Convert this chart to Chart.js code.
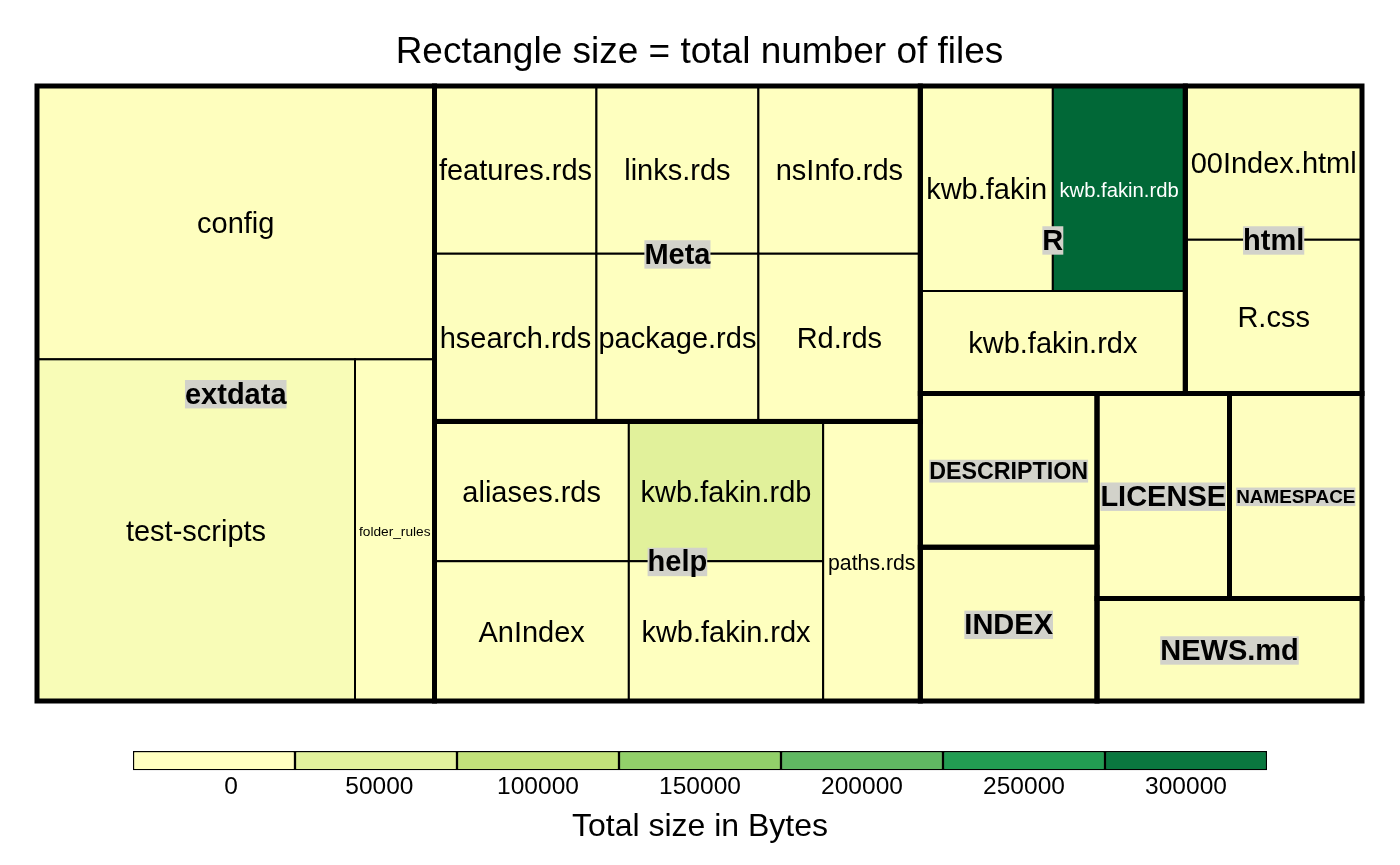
<!DOCTYPE html>
<html>
<head>
<meta charset="utf-8">
<script src="https://cdn.jsdelivr.net/npm/chart.js@4.4.1/dist/chart.umd.min.js"></script>
<style>
  body { margin: 0; background: #fff; }
  canvas { display: block; }
</style>
</head>
<body>
<canvas id="tree" width="1400" height="720"></canvas>
<canvas id="legend" width="1400" height="145"></canvas>
<script>
// level 1 = folders (or single top-level files)
var folderNames = ['extdata', 'Meta', 'help', 'R', 'html', 'DESCRIPTION', 'INDEX', 'LICENSE', 'NAMESPACE', 'NEWS.md'];

// level 2 = entries inside each folder
var fileNames = ['config', 'test-scripts', 'folder_rules',
  'features.rds', 'hsearch.rds', 'links.rds', 'nsInfo.rds', 'package.rds', 'Rd.rds',
  'aliases.rds', 'AnIndex', 'kwb.fakin.rdb', 'kwb.fakin.rdx', 'paths.rds',
  'kwb.fakin', 'kwb.fakin.rdb', 'kwb.fakin.rdx',
  '00Index.html', 'R.css',
  'DESCRIPTION', 'INDEX', 'LICENSE', 'NAMESPACE', 'NEWS.md'];
var fileFolders = ['extdata', 'extdata', 'extdata',
  'Meta', 'Meta', 'Meta', 'Meta', 'Meta', 'Meta',
  'help', 'help', 'help', 'help', 'help',
  'R', 'R', 'R',
  'html', 'html',
  'DESCRIPTION', 'INDEX', 'LICENSE', 'NAMESPACE', 'NEWS.md'];
var fileCounts = [4, 4, 1,
  1, 1, 1, 1, 1, 1,
  1, 1, 1, 1, 1,
  1, 1, 1,
  1, 1,
  1, 1, 1, 1, 1];
var fileBytes = [2500, 12000, 1500,
  900, 2600, 1100, 450, 1300, 700,
  1200, 900, 52000, 1000, 300,
  1100, 322000, 2200,
  3000, 1200,
  1500, 2500, 60, 2000, 3500];

// legend labels are padded to a common width, as R's format() does
var legendTicks = ['     0', ' 50000', '100000', '150000', '200000', '250000', '300000'];
var legendValues = [0, 50000, 100000, 150000, 200000, 250000, 300000];
var legendColors = ['#FFFFC0', '#E2F29C', '#C2E27A', '#92D06A', '#60B862', '#229C52', '#0A773F'];
var darkEnd = '#006636';

var FONT = '"Liberation Sans", Arial, sans-serif';

function hexRgb(h) {
  return [parseInt(h.substr(1, 2), 16), parseInt(h.substr(3, 2), 16), parseInt(h.substr(5, 2), 16)];
}
function mix(a, b, t) {
  var p = hexRgb(a), q = hexRgb(b);
  var r = [0, 1, 2].map(function(i) { return Math.round(p[i] + (q[i] - p[i]) * t); });
  return 'rgb(' + r.join(',') + ')';
}
function colorFor(v) {
  var n = legendValues.length;
  if (v <= legendValues[0]) return mix(legendColors[0], legendColors[0], 0);
  if (v >= legendValues[n - 1]) {
    return mix(legendColors[n - 1], darkEnd, Math.min(1, (v - legendValues[n - 1]) / 25000));
  }
  for (var i = 0; i < n - 1; i++) {
    if (v < legendValues[i + 1]) {
      return mix(legendColors[i], legendColors[i + 1], (v - legendValues[i]) / (legendValues[i + 1] - legendValues[i]));
    }
  }
}
function isDark(c) {
  var m = c.match(/\d+/g);
  return (0.299 * m[0] + 0.587 * m[1] + 0.114 * m[2]) < 110;
}

// squarified layout
function worst(row, s, k) {
  var sum = 0, mx = 0, mn = Infinity;
  row.forEach(function(it) { var a = it.value * k; sum += a; mx = Math.max(mx, a); mn = Math.min(mn, a); });
  return Math.max(s * s * mx / (sum * sum), sum * sum / (s * s * mn));
}
function squarify(items, x, y, w, h) {
  var total = 0;
  items.forEach(function(it) { total += it.value; });
  var k = w * h / total;
  var rest = items.slice().sort(function(a, b) { return b.value - a.value; });
  var out = [];
  while (rest.length) {
    var s = Math.min(w, h);
    var row = [rest[0]], i = 1;
    while (i < rest.length && worst(row.concat([rest[i]]), s, k) <= worst(row, s, k)) {
      row.push(rest[i]);
      i++;
    }
    rest = rest.slice(row.length);
    var rsum = 0;
    row.forEach(function(it) { rsum += it.value * k; });
    if (w >= h) {
      var cw = rsum / h, yy = y;
      row.forEach(function(it) {
        var ih = it.value * k / cw;
        out.push({ item: it, x: x, y: yy, w: cw, h: ih });
        yy += ih;
      });
      x += cw; w -= cw;
    } else {
      var rh = rsum / w, xx = x;
      row.forEach(function(it) {
        var iw = it.value * k / rh;
        out.push({ item: it, x: xx, y: y, w: iw, h: rh });
        xx += iw;
      });
      y += rh; h -= rh;
    }
  }
  return out;
}

function fitFont(ctx, text, size, weight, w) {
  ctx.font = weight + ' ' + size + 'px ' + FONT;
  var tw = ctx.measureText(text).width;
  if (tw > w - 2) {
    size = size * 0.9 * w / tw;
    ctx.font = weight + ' ' + size + 'px ' + FONT;
    tw = ctx.measureText(text).width;
  }
  return { size: size, width: tw };
}

var treemapPlugin = {
  id: 'treemap',
  afterDatasetsDraw: function(chart) {
    var ctx = chart.ctx;
    var xs = chart.scales.x, ys = chart.scales.y;
    var W = chart.chartArea.right - chart.chartArea.left;
    var H = chart.chartArea.bottom - chart.chartArea.top;

    // build folders from file arrays
    var folders = folderNames.map(function(name) {
      var kids = [], count = 0, bytes = 0;
      fileNames.forEach(function(f, i) {
        if (fileFolders[i] !== name) return;
        kids.push({ name: f, value: fileCounts[i], bytes: fileBytes[i] });
        count += fileCounts[i];
        bytes += fileBytes[i];
      });
      return { name: name, value: count, bytes: bytes, kids: kids, leaf: kids.length === 1 && kids[0].name === name };
    });

    // layout in pixel-proportional units, drawn through the scales
    function px(r) {
      var x0 = xs.getPixelForValue(r.x / W), x1 = xs.getPixelForValue((r.x + r.w) / W);
      var y0 = ys.getPixelForValue(r.y / H), y1 = ys.getPixelForValue((r.y + r.h) / H);
      return { x: Math.min(x0, x1), y: Math.min(y0, y1), w: Math.abs(x1 - x0), h: Math.abs(y1 - y0) };
    }
    var top = squarify(folders, 0, 0, W, H);
    var childRects = [];
    top.forEach(function(t) {
      if (!t.item.leaf) {
        squarify(t.item.kids, t.x, t.y, t.w, t.h).forEach(function(c) { childRects.push(c); });
      }
    });

    ctx.save();
    // fills
    top.forEach(function(t) {
      var p = px(t);
      ctx.fillStyle = colorFor(t.item.bytes);
      ctx.fillRect(p.x, p.y, p.w, p.h);
    });
    childRects.forEach(function(c) {
      var p = px(c);
      ctx.fillStyle = colorFor(c.item.bytes);
      ctx.fillRect(p.x, p.y, p.w, p.h);
      ctx.lineWidth = 2;
      ctx.strokeStyle = '#000';
      ctx.strokeRect(p.x, p.y, p.w, p.h);
    });
    top.forEach(function(t) {
      var p = px(t);
      ctx.lineWidth = 5;
      ctx.strokeStyle = '#000';
      ctx.strokeRect(p.x, p.y, p.w, p.h);
    });

    // labels
    ctx.textAlign = 'center';
    ctx.textBaseline = 'middle';
    childRects.forEach(function(c) {
      var p = px(c);
      fitFont(ctx, c.item.name, 29, 'normal', p.w);
      ctx.fillStyle = isDark(colorFor(c.item.bytes)) ? '#fff' : '#000';
      ctx.fillText(c.item.name, p.x + p.w / 2, p.y + p.h / 2 + 2.5);
    });
    top.forEach(function(t) {
      var p = px(t);
      var f = fitFont(ctx, t.item.name, 29, 'bold', p.w);
      var cx = p.x + p.w / 2, cy = p.y + p.h / 2 + 1;
      ctx.fillStyle = '#D2D2CA';
      ctx.fillRect(cx - f.width / 2, cy - f.size * 0.5, f.width, f.size * 0.98);
      ctx.fillStyle = '#000';
      ctx.fillText(t.item.name, cx, cy + 1);
    });
    ctx.restore();
  }
};

new Chart(document.getElementById('tree'), {
  type: 'scatter',
  data: { datasets: [{ data: [] }] },
  options: {
    responsive: false,
    animation: false,
    layout: { padding: { left: 37, right: 38, top: 0, bottom: 19 } },
    scales: {
      x: { type: 'linear', min: 0, max: 1, display: false },
      y: { type: 'linear', min: 0, max: 1, reverse: true, display: false }
    },
    plugins: {
      legend: { display: false },
      tooltip: { enabled: false },
      title: {
        display: true,
        text: 'Rectangle size = total number of files',
        color: '#000',
        font: { family: FONT, size: 37, weight: 'normal' },
        padding: { top: 31, bottom: 10.6 }
      }
    }
  },
  plugins: [treemapPlugin]
});

// colour legend
new Chart(document.getElementById('legend'), {
  type: 'bar',
  data: {
    labels: legendTicks,
    datasets: [{
      data: legendTicks.map(function() { return 1; }),
      backgroundColor: legendColors,
      borderColor: '#000',
      borderWidth: 1.5,
      borderSkipped: false,
      barPercentage: 1,
      categoryPercentage: 1
    }]
  },
  options: {
    responsive: false,
    animation: false,
    layout: { padding: { left: 133, right: 133, top: 31, bottom: 19 } },
    scales: {
      x: {
        grid: { display: false, drawTicks: false },
        border: { display: false },
        ticks: { color: '#000', padding: 2, maxRotation: 0, autoSkip: false, font: { family: FONT, size: 24.5 } }
      },
      y: { min: 0, max: 1, display: false }
    },
    plugins: {
      legend: { display: false },
      tooltip: { enabled: false },
      title: {
        display: true,
        position: 'bottom',
        text: 'Total size in Bytes',
        color: '#000',
        font: { family: FONT, size: 32, weight: 'normal' },
        padding: { top: 4, bottom: 0 }
      }
    }
  }
});
</script>
</body>
</html>
